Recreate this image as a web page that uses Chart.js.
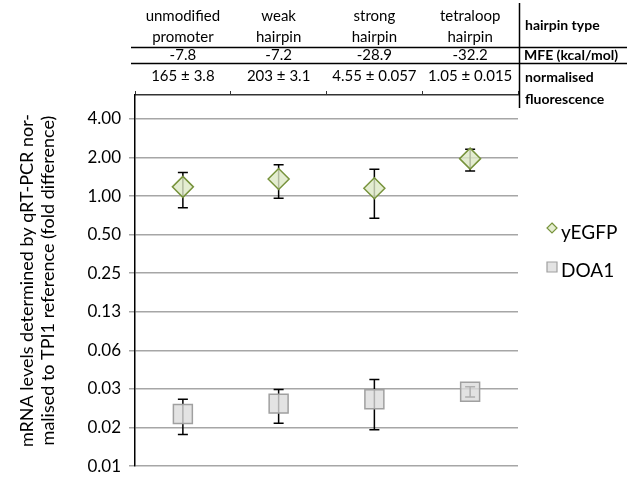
<!DOCTYPE html>
<html>
<head>
<meta charset="utf-8">
<script src="https://cdn.jsdelivr.net/npm/chart.js@4.4.1/dist/chart.umd.min.js"></script>
<style>
  html, body { margin: 0; padding: 0; background: #fff; }
  #wrap { width: 629px; height: 481px; }
</style>
</head>
<body>
<div id="wrap"><canvas id="myChart" width="629" height="481"></canvas></div>
<script>
const categories = [["unmodified", "promoter"], ["weak", "hairpin"], ["strong", "hairpin"], ["tetraloop", "hairpin"]];
const mfeValues = ["-7.8", "-7.2", "-28.9", "-32.2"];
const fluorescence = ["165 ± 3.8", "203 ± 3.1", "4.55 ± 0.057", "1.05 ± 0.015"];

const yegfp = [1.18, 1.36, 1.15, 1.96];
const yegfpLow = [0.81, 0.96, 0.67, 1.57];
const yegfpHigh = [1.53, 1.76, 1.62, 2.32];

const doa1 = [0.0199, 0.024, 0.026, 0.0297];
const doa1Low = [0.0138, 0.0169, 0.015, 0.027];
const doa1High = [0.026, 0.031, 0.037, 0.0325];

const yTickValues = [0.0078125, 0.015625, 0.03125, 0.0625, 0.125, 0.25, 0.5, 1, 2, 4];
const yTickLabels = ["0.01", "0.02", "0.03", "0.06", "0.13", "0.25", "0.50", "1.00", "2.00", "4.00"];
const yMin = 0.0078125;
const yMax = 6.15;

const FONT = "Lato, 'Liberation Sans', sans-serif";

// error bars go under the (slightly see-through) markers
const errorBars = {
  id: "errorBars",
  beforeDatasetsDraw(chart) {
    const { ctx, scales } = chart;
    const sets = [[yegfpLow, yegfpHigh], [doa1Low, doa1High]];
    ctx.save();
    ctx.strokeStyle = "#000";
    ctx.lineWidth = 1.5;
    sets.forEach(([lo, hi]) => {
      lo.forEach((v, i) => {
        const x = scales.x.getPixelForValue(i);
        const y1 = scales.y.getPixelForValue(v);
        const y2 = scales.y.getPixelForValue(hi[i]);
        ctx.beginPath();
        ctx.moveTo(x, y1); ctx.lineTo(x, y2);
        ctx.moveTo(x - 5, y1); ctx.lineTo(x + 5, y1);
        ctx.moveTo(x - 5, y2); ctx.lineTo(x + 5, y2);
        ctx.stroke();
      });
    });
    ctx.restore();
  }
};

// table above the plot + legend on the right
const tableAndLegend = {
  id: "tableAndLegend",
  afterDraw(chart) {
    const { ctx, scales } = chart;
    ctx.save();
    ctx.fillStyle = "#000";
    ctx.textAlign = "center";
    ctx.textBaseline = "middle";
    ctx.font = "15px " + FONT;
    categories.forEach((c, i) => {
      const x = scales.x.getPixelForValue(i);
      ctx.fillText(c[0], x, 16);
      ctx.fillText(c[1], x, 37);
      ctx.fillText(mfeValues[i], x, 55.5);
      ctx.fillText(fluorescence[i], x, 76);
    });

    ctx.strokeStyle = "#000";
    ctx.lineWidth = 1.5;
    ctx.beginPath();
    ctx.moveTo(131, 47.5); ctx.lineTo(627, 47.5);
    ctx.moveTo(131, 63.5); ctx.lineTo(627, 63.5);
    ctx.moveTo(519.5, 3); ctx.lineTo(519.5, 108);
    ctx.stroke();

    ctx.textAlign = "left";
    ctx.font = "bold 14px " + FONT;
    ctx.fillText("hairpin type", 525, 25);
    ctx.fillText("MFE (kcal/mol)", 524, 55.5);
    ctx.fillText("normalised", 525, 77);
    ctx.fillText("fluorescence", 525, 99);

    // legend
    ctx.font = "19px " + FONT;
    chart.data.datasets.forEach((ds, i) => {
      const y = 228 + i * 38;
      const x = 552;
      ctx.fillStyle = ds.backgroundColor;
      ctx.strokeStyle = ds.borderColor;
      ctx.lineWidth = 1.2;
      ctx.beginPath();
      if (ds.pointStyle === "rectRot") {
        ctx.moveTo(x, y - 5); ctx.lineTo(x + 5, y); ctx.lineTo(x, y + 5); ctx.lineTo(x - 5, y);
        ctx.closePath();
      } else {
        ctx.rect(x - 5, y - 4, 10, 10);
      }
      ctx.fill();
      ctx.stroke();
      ctx.fillStyle = "#000";
      ctx.fillText(ds.label, 561, y + 5);
    });
    ctx.restore();
  }
};

const init = () => {
  const ctx = document.getElementById("myChart").getContext("2d");
  new Chart(ctx, {
    type: "line",
    data: {
      labels: categories.map(c => c.join(" ")),
      datasets: [
        {
          label: "yEGFP",
          data: yegfp,
          showLine: false,
          pointStyle: "rectRot",
          pointRadius: 10.5,
          pointHoverRadius: 10.5,
          pointBorderWidth: 1.5,
          backgroundColor: "rgba(221, 233, 198, 0.8)",
          borderColor: "#77933c",
        },
        {
          label: "DOA1",
          data: doa1,
          showLine: false,
          pointStyle: "rect",
          pointRadius: 13.4,
          pointHoverRadius: 13.4,
          pointBorderWidth: 1.5,
          backgroundColor: "rgba(220, 220, 220, 0.8)",
          borderColor: "#a0a0a0",
        },
      ],
    },
    options: {
      responsive: false,
      animation: false,
      layout: { padding: { top: 0, right: 111, bottom: 13, left: 0 } },
      plugins: { legend: { display: false }, tooltip: { enabled: false } },
      scales: {
        x: {
          type: "category",
          position: "top",
          offset: true,
          grid: { offset: true, drawOnChartArea: false, drawTicks: true, tickLength: 4, color: "#333", lineWidth: 1 },
          border: { color: "#333", width: 1.5 },
          ticks: { display: false },
          afterFit: (scale) => { scale.height = 95; },
        },
        y: {
          type: "logarithmic",
          min: yMin,
          max: yMax,
          afterBuildTicks: (axis) => { axis.ticks = yTickValues.map(v => ({ value: v })); },
          ticks: {
            callback: (value, index) => yTickLabels[index],
            color: "#000",
            font: { family: FONT, size: 17 },
            padding: 8,
          },
          grid: { color: "#a6a6a6", lineWidth: 1.5, tickLength: 6 },
          border: { color: "#000", width: 1.5 },
          title: {
            display: true,
            text: ["mRNA levels determined by qRT-PCR nor-", "malised to TPI1 reference (fold difference)"],
            color: "#000",
            font: { family: FONT, size: 18 },
            padding: { top: 16, bottom: 0 },
          },
          afterFit: (scale) => {
            scale.width = 135;
            scale.paddingTop = 0;
            scale.paddingBottom = 0;
          },
        },
      },
    },
    plugins: [errorBars, tableAndLegend],
  });
};

window.addEventListener("load", init);
</script>
</body>
</html>
